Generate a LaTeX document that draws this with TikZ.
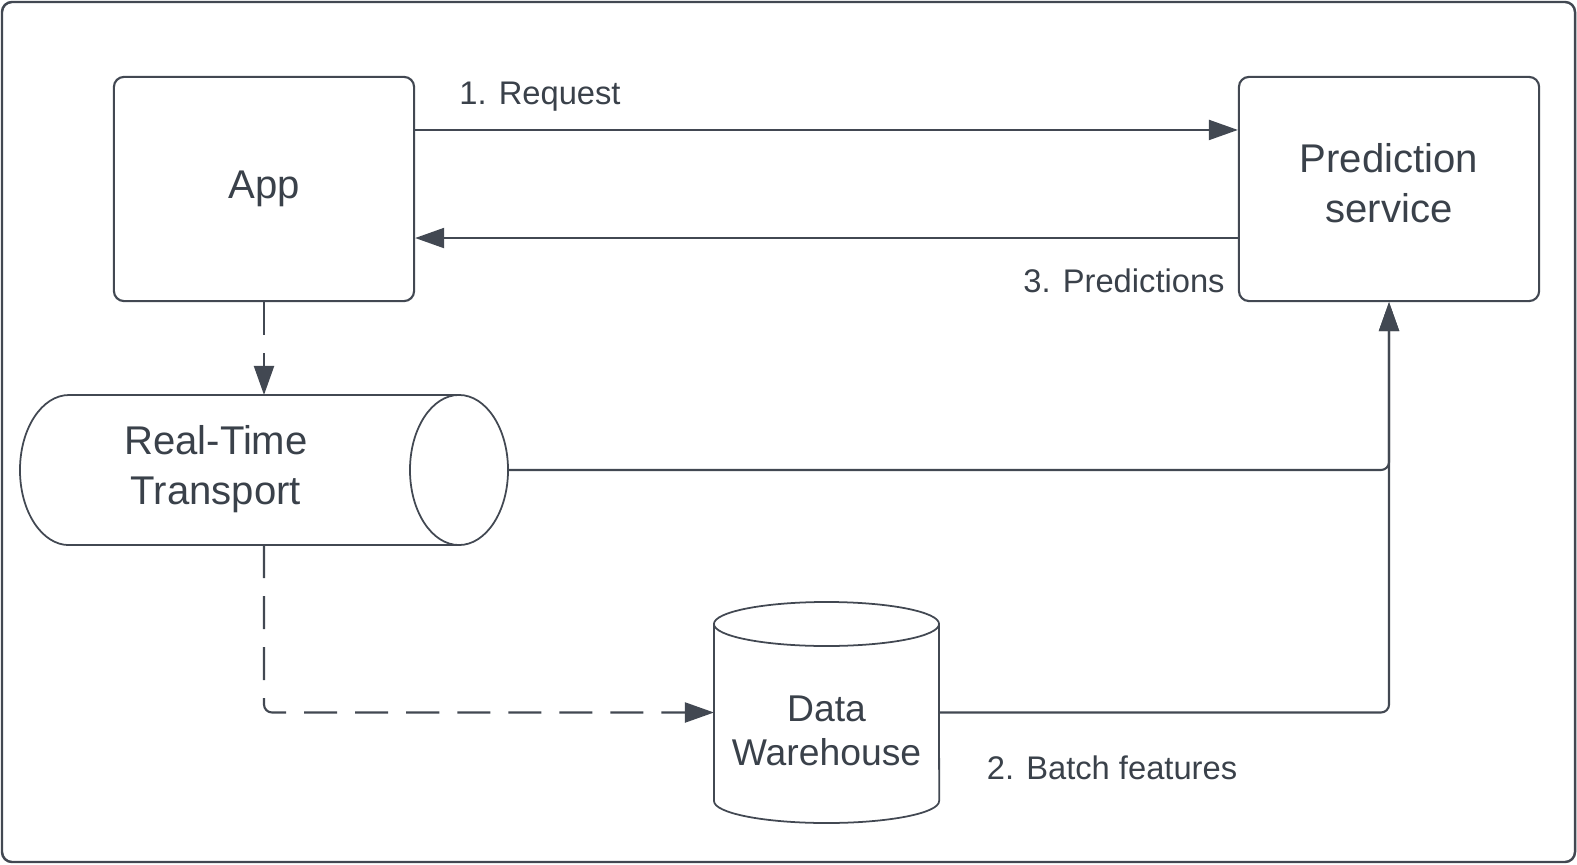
\documentclass[tikz,border=0pt]{standalone}
\usepackage{fontspec}
\setmainfont{Liberation Sans}
\usepackage{tikz}
\usetikzlibrary{arrows.meta, positioning}
\definecolor{dInk}{RGB}{58,65,74}
\definecolor{dLine}{RGB}{66,72,82}

\begin{document}
\begin{tikzpicture}[x=0.01cm, y=-0.01cm,
  every node/.style={text=dInk},
  boxtext/.style={align=center, font=\fontsize{11.4}{14.2}\selectfont},
  boxnode/.style={boxtext, draw=dLine, line width=0.6pt, rounded corners=0.1cm, minimum width=3.0cm, minimum height=2.24cm},
  hold/.style={inner sep=0pt, outer sep=0pt},
  wall/.style={draw=dLine, line width=0.5pt},
  flow/.style={draw=dLine, line width=0.6pt, -{Triangle[length=0.29cm, width=0.2cm]}, rounded corners=0.08cm},
  feed/.style={flow, dash pattern=on 0.33cm off 0.18cm},
  lbl/.style={font=\fontsize{9.3}{11}\selectfont}]
  \useasboundingbox (0,0) rectangle (1577,864);
  \draw[dLine, line width=0.7pt, rounded corners=0.1cm] (2,2) rectangle (1575,862);

  % boxes
  \node[boxnode] (app) at (264,189) {App};
  \node[boxnode] (pred) at (1389,189) {Prediction\\service\rule[-0.12cm]{0pt}{0.12cm}};

  % stores (outline drawn by hand, node keeps the anchors)
  \node[hold, minimum width=4.88cm, minimum height=1.5cm] (rtt) at (264,470) {};
  \draw[wall] (459,395) -- (69,395) arc[start angle=90, end angle=270, x radius=0.49cm, y radius=0.75cm] -- (459,545);
  \draw[wall] (459,470) ellipse [x radius=0.49cm, y radius=0.75cm];
  \node[boxtext] (rtttext) at ([xshift=-0.48cm, yshift=0.01cm]rtt.center) {Real-Time\\Transport};

  \node[hold, minimum width=2.25cm, minimum height=2.21cm] (dw) at (826.5,712.5) {};
  \draw[wall] (826.5,624) ellipse [x radius=1.125cm, y radius=0.22cm];
  \draw[wall] (714,624) -- (714,801) arc[start angle=180, end angle=360, x radius=1.125cm, y radius=0.22cm] -- (939,624);
  \node[boxtext, font=\fontsize{10.6}{12.6}\selectfont] (dwtext) at ([yshift=-0.185cm]dw.center) {Data\\Warehouse};

  % request / response
  \draw[flow] ([yshift=0.59cm]app.east) -- ([yshift=0.59cm]pred.west);
  \draw[flow] ([yshift=-0.49cm]pred.west) -- ([yshift=-0.49cm]app.east);
  \node[lbl] (reqlbl) at (540,97) {1. Request};
  \node[lbl] (predlbl) at (1124,281) {3. Predictions};

  % event logging
  \draw[feed] (app.south) -- (rtt.north);
  \draw[feed] (rtt.south) |- (dw.west);

  % features into the service
  \draw[flow] (rtt.east) -| (pred.south);
  \draw[flow] (dw.east) -| (pred.south);
  \node[lbl] (batchlbl) at (1112,768) {2. Batch features};
\end{tikzpicture}
\end{document}
